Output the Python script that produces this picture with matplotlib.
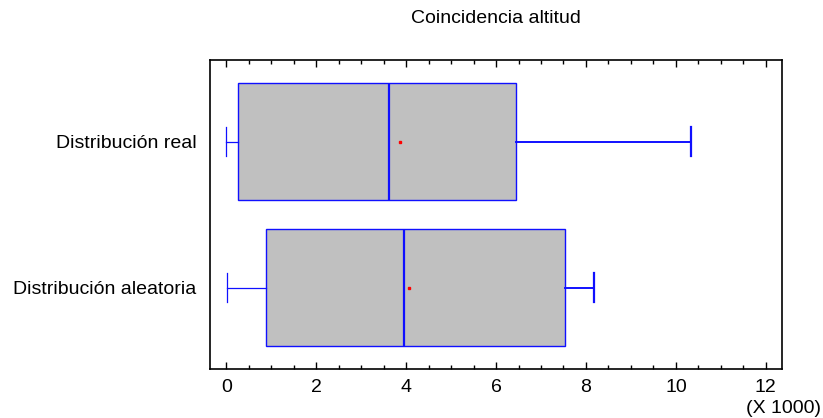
import matplotlib
matplotlib.use("Agg")
import matplotlib.pyplot as plt
from matplotlib.ticker import MultipleLocator

plt.rcParams["font.family"] = ["Liberation Sans", "DejaVu Sans"]

# values in thousands
labels = ["Distribución aleatoria", "Distribución real"]
whislo = [0.02, 0.00]
q1 = [0.88, 0.27]
med = [3.95, 3.62]
mean = [4.06, 3.87]
q3 = [7.54, 6.44]
whishi = [8.18, 10.33]

stats = []
for i in range(len(labels)):
    stats.append(dict(label=labels[i], whislo=whislo[i], q1=q1[i], med=med[i],
                      mean=mean[i], q3=q3[i], whishi=whishi[i], fliers=[]))

blue = "#1010ff"
fig = plt.figure(figsize=(8.23, 4.18), dpi=100)
ax = fig.add_axes([0.2552, 0.1172, 0.695, 0.7393])

res = ax.bxp(stats, positions=[1, 2], vert=False, widths=0.8, patch_artist=True,
             showmeans=True, showcaps=True, capwidths=0.2,
             boxprops=dict(facecolor="#c0c0c0", edgecolor=blue, linewidth=1.0),
             medianprops=dict(color=blue, linewidth=1.6),
             whiskerprops=dict(color=blue, linewidth=0.9),
             capprops=dict(color=blue, linewidth=0.9),
             meanprops=dict(marker="s", markersize=2, markerfacecolor="red",
                            markeredgecolor="red"))
# heavier upper whiskers and caps, as in the original
for k, w in enumerate(res["whiskers"]):
    if k % 2 == 1:
        w.set_linewidth(1.4)
for k, c in enumerate(res["caps"]):
    if k % 2 == 1:
        c.set_linewidth(1.6)

ax.set_xlim(-0.36, 12.36)
ax.set_ylim(0.443, 2.56)
ax.xaxis.set_major_locator(MultipleLocator(2))
ax.xaxis.set_minor_locator(MultipleLocator(0.5))
ax.tick_params(axis="x", which="both", direction="in", top=True, labelsize=14, pad=7)
ax.tick_params(axis="x", which="major", length=5, width=1)
ax.tick_params(axis="x", which="minor", length=3, width=1)
ax.tick_params(axis="y", which="both", length=0, labelsize=14, pad=10)
for s in ax.spines.values():
    s.set_linewidth(1.2)

fig.text(0.6027, 0.955, "Coincidencia altitud", ha="center", va="center", fontsize=14)
fig.text(0.997, 0.022, "(X 1000)", ha="right", va="center", fontsize=14)

fig.savefig("out.png", dpi=100)
